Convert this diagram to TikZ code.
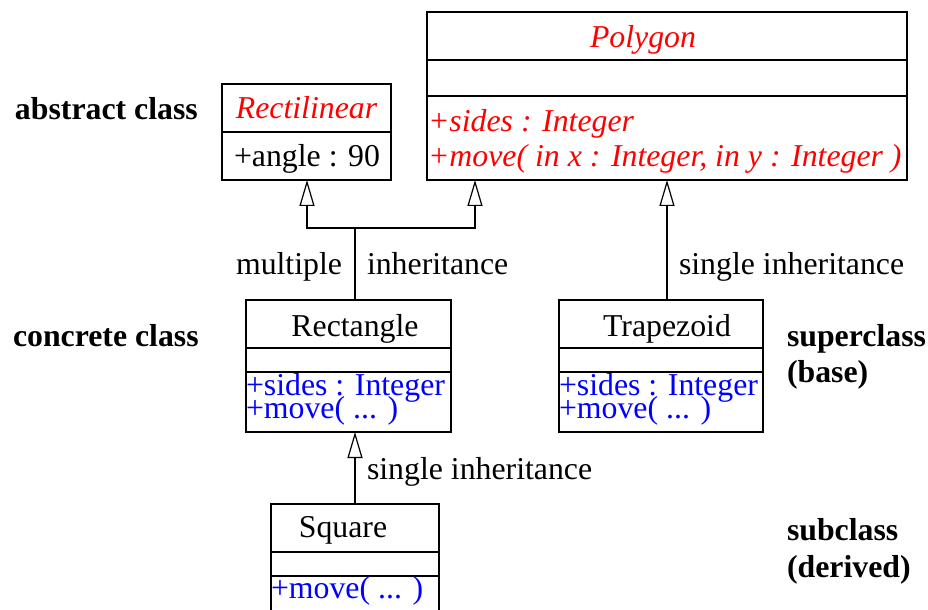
\documentclass[tikz,border=0pt]{standalone}
\usepackage{fontspec}
\setmainfont{Liberation Serif}
\usetikzlibrary{arrows.meta}
\definecolor{ured}{RGB}{255,0,0}
\definecolor{ublue}{RGB}{0,0,255}
\newcommand\mytightlines{\lineskiplimit=-100pt\relax\lineskip=0pt\relax}
\tikzset{
  classbox/.style={draw=black, line width=0.6pt, inner sep=0pt, outer sep=0pt, anchor=north west},
  divider/.style={draw=black, line width=0.6pt},
  txt/.style={inner sep=0pt, outer sep=0pt, font=\fontsize{15.9pt}{19pt}\selectfont},
  ttl/.style={txt, anchor=base},
  abs/.style={txt, text=ured, font=\fontsize{15.9pt}{19pt}\selectfont\itshape},
  blu/.style={txt, text=ublue, anchor=base west, align=left, font=\fontsize{15.9pt}{11.5pt}\selectfont\mytightlines},
  lbl/.style={txt, font=\fontsize{15.9pt}{19pt}\selectfont\bfseries, anchor=base west},
  conn/.style={draw=black, line width=0.6pt},
  inh/.style={conn, -{Triangle[fill=white, length=13pt, width=7.5pt]}}
}
\begin{document}
\begin{tikzpicture}[x=0.5pt, y=-0.5pt]
\clip (0,0) rectangle (928,610);
\fill[white] (0,0) rectangle (928,610);

% Polygon
\node[classbox, minimum width=240pt, minimum height=84pt] (poly) at (427,12) {};
\draw[divider] (427,60) -- (907,60);
\draw[divider] (427,96) -- (907,96);
\node[abs, anchor=base] (polyT) at (643,48) {Polygon};
\node[abs, anchor=base west] (polyA) at (428,132) {+sides : Integer};
\node[abs, anchor=base west] (polyB) at (428,167) {+move( in x : Integer, in y : Integer )};

% Rectilinear
\node[classbox, minimum width=84.5pt, minimum height=48pt] (rectil) at (222,84) {};
\draw[divider] (222,132) -- (391,132);
\node[abs, anchor=base] (rectilT) at (306.5,119) {Rectilinear};
\node[ttl] (rectilA) at (307,167) {+angle : 90};

% Rectangle
\node[classbox, minimum width=102.5pt, minimum height=66pt] (rect) at (246,300) {};
\draw[divider] (246,348) -- (451,348);
\draw[divider] (246,372) -- (451,372);
\node[ttl] (rectT) at (355,336) {Rectangle};
\node[blu] (rectA) at (246,418) {+sides : Integer\\+move( ... )};

% Trapezoid
\node[classbox, minimum width=102pt, minimum height=66pt] (trap) at (559,300) {};
\draw[divider] (559,348) -- (763,348);
\draw[divider] (559,372) -- (763,372);
\node[ttl] (trapT) at (667,336) {Trapezoid};
\node[blu] (trapA) at (559,418) {+sides : Integer\\+move( ... )};

% Square
\node[classbox, minimum width=84pt, minimum height=62pt] (sq) at (271,504) {};
\draw[divider] (271,552) -- (439,552);
\draw[divider] (271,576) -- (439,576);
\node[ttl] (sqT) at (343,538) {Square};
\node[blu] (sqA) at (271,598) {+move( ... )};

% connectors
\coordinate (rectTop) at (355,300);
\coordinate (junc) at (355,228);
\coordinate (rectilBot) at (307,180);
\coordinate (polyBotL) at (475,180);
\coordinate (polyBotR) at (667,180);
\coordinate (trapTop) at (667,300);
\coordinate (sqTop) at (355,504);
\coordinate (rectBot) at (355,432);
\draw[conn] (rectTop) -- (junc);
\draw[inh] (junc) -| (rectilBot);
\draw[inh] (junc) -| (polyBotL);
\draw[inh] (trapTop) -- (polyBotR);
\draw[inh] (sqTop) -- (rectBot);

% edge labels
\node[txt, anchor=base east] (lmult) at (342,275) {multiple};
\node[txt, anchor=base west] (linh) at (367,275) {inheritance};
\node[txt, anchor=base west] (lsingle1) at (679,275) {single inheritance};
\node[txt, anchor=base west] (lsingle2) at (367,480) {single inheritance};

% side labels
\node[lbl] (labs) at (15,120) {abstract class};
\node[lbl] (lconc) at (13,347) {concrete class};
\node[lbl] (lsup) at (787,347) {superclass};
\node[lbl] (lbase) at (787,383) {(base)};
\node[lbl] (lsub) at (787,540) {subclass};
\node[lbl] (lder) at (787,577) {(derived)};
\end{tikzpicture}
\end{document}
